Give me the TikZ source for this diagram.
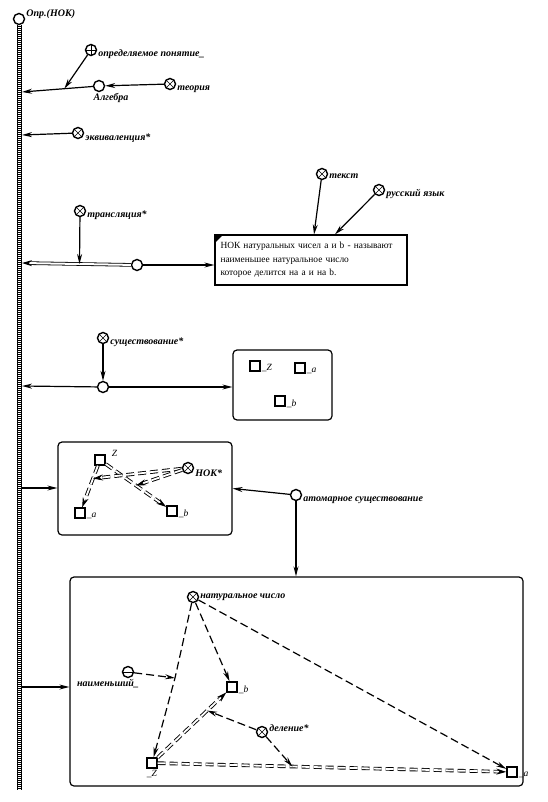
\documentclass[tikz,border=0pt]{standalone}
\usepackage{fontspec}
\setmainfont{Liberation Serif}
\usetikzlibrary{positioning,calc,arrows.meta}
\tikzset{lbl/.style={font=\fontsize{10}{12}\selectfont\bfseries\itshape, inner sep=1pt}}
\tikzset{sub/.style={font=\fontsize{9.5}{10}\selectfont\itshape, inner sep=1pt}}
\tikzset{arr/.style={draw, -{Stealth[length=10pt,width=5pt]}, line width=1.2pt}}
\tikzset{dash arr/.style={arr, dash pattern=on 8pt off 4pt}}
\tikzset{dbl line/.style={draw, line width=0.9pt, double, double distance=1.8pt, dash pattern=on 8pt off 4pt, shorten >=7pt}}
\tikzset{tip only/.style={draw, -{Stealth[length=10pt,width=6pt]}, line width=1pt, dash pattern=on 0pt off 5000pt}}
\newcommand{\dblarrow}[3][]{\draw[dbl line, #1] (#2) -- (#3); \draw[tip only] (#2) -- (#3);}
\tikzset{pt/.style={circle, draw, line width=1.4pt, fill=white, minimum size=11pt, inner sep=0pt}}
\tikzset{cross pt/.style={pt, path picture={\draw[line width=0.6pt] (path picture bounding box.north west) -- (path picture bounding box.south east) (path picture bounding box.north east) -- (path picture bounding box.south west);}}}
\tikzset{plus pt/.style={pt, path picture={\draw[line width=0.8pt] (path picture bounding box.north) -- (path picture bounding box.south) (path picture bounding box.west) -- (path picture bounding box.east);}}}
\tikzset{minus pt/.style={pt, path picture={\draw[line width=0.8pt] (path picture bounding box.west) -- (path picture bounding box.east);}}}
\tikzset{sq/.style={rectangle, draw, line width=1.4pt, fill=white, minimum size=10pt, inner sep=0pt}}
\tikzset{frame/.style={draw, line width=1.2pt, rounded corners=4pt}}

\begin{document}
\begin{tikzpicture}[x=1pt, y=-1pt]
    \useasboundingbox (0,0) rectangle (548,802);
    % the spine
    \draw[line width=5pt] (19,25) -- (19,790);
    \draw[line width=3pt, white, dash pattern=on 1pt off 1pt] (19,25) -- (19,790);
    \node[pt, label={[lbl, yshift=5pt]right:Опр.(НОК)}] (opr) at (19,19) {};

    % top part
    \node[plus pt, label={[lbl, yshift=-4pt]right:определяемое понятие\_}] (defn) at (91,50) {};
    \node[pt, label={[lbl, xshift=12pt]below:Алгебра}] (alg) at (99,86) {};
    \node[cross pt, label={[lbl, yshift=-5pt]right:теория}] (teor) at (170,84) {};
    \node[cross pt, label={[lbl, yshift=-5pt]right:эквиваленция*}] (ekv) at (78,133) {};
    \coordinate (bA) at (22,92);
    \coordinate (bB) at (22,135);
    \draw[arr] (alg) -- (bA);
    \coordinate (onA) at ($(alg)!0.45!(bA)$);
    \draw[arr] (defn) -- (onA);
    \draw[arr] (teor) -- (alg);
    \draw[arr] (ekv) -- (bB);

    % translation
    \node[cross pt, label={[lbl, yshift=-4pt]right:трансляция*}] (trans) at (80,211) {};
    \node[cross pt, label={[lbl, yshift=-2pt]right:текст}] (tekst) at (322,174) {};
    \node[cross pt, label={[lbl, yshift=-4pt]right:русский язык}] (rus) at (379,190) {};
    \node[draw, line width=1.2pt, minimum width=192pt, minimum height=50pt, text width=181pt,
          align=left, inner sep=5pt, font=\fontsize{9.4}{13.5}\selectfont] (defbox) at (311,260)
          {НОК натуральных чисел a и b - называют\\наименьшее натуральное число\\которое делится на a и на b.};
    \fill (defbox.north west) -- ++(9,0) -- ++(-9,9) -- cycle;
    \node[pt] (trc) at (137,265) {};
    \coordinate (bC) at (22,263);
    \dblarrow[solid, double distance=2pt, line width=0.8pt]{trc}{bC}
    \coordinate (onC) at ($(trc)!0.5!(bC)$);
    \draw[arr] (trans) -- (onC);
    \draw[arr] (trc) -- (defbox.west |- trc);
    \draw[arr] (tekst) -- ($(defbox.north)+(3,0)$);
    \draw[arr] (rus) -- ($(defbox.north)+(24,0)$);

    % existence
    \node[cross pt, label={[lbl, yshift=-4pt]right:существование*}] (sush) at (103,338) {};
    \node[pt] (sushc) at (103,387) {};
    \node[frame, minimum width=99pt, minimum height=70pt] (box2) at (282.5,385) {};
    \node[sq, label={[sub, yshift=-2pt]right:\_Z}] (sqZ1) at (255,366) {};
    \node[sq, label={[sub, yshift=-3pt]right:\_a}] (sqa1) at (300,368) {};
    \node[sq, label={[sub, yshift=-3pt]right:\_b}] (sqb1) at (280,401) {};
    \coordinate (bD) at (22,386);
    \draw[arr] (sush) -- (sushc);
    \draw[arr] (sushc) -- (bD);
    \draw[arr] (sushc) -- (box2.west |- sushc);

    % LCM block
    \node[frame, minimum width=174pt, minimum height=93pt] (box3) at (145,488.5) {};
    \node[sq, label={[sub, xshift=5pt, yshift=-3pt]north east:Z}] (sqZ2) at (100,460) {};
    \node[cross pt, label={[lbl, yshift=-5pt]right:НОК*}] (nok) at (188,468) {};
    \node[sq, label={[sub, yshift=-3pt]right:\_a}] (sqa2) at (80,513) {};
    \node[sq, label={[sub, yshift=-3pt]right:\_b}] (sqb2) at (172,511) {};
    \coordinate (onZa) at ($(sqZ2)!0.35!(sqa2)$);
    \coordinate (onZb) at ($(sqZ2)!0.5!(sqb2)$);
    \dblarrow{sqZ2}{sqa2}
    \dblarrow{sqZ2}{sqb2}
    \dblarrow{nok}{onZa}
    \dblarrow{nok}{onZb}
    \coordinate (bE) at (22,488);
    \draw[arr] (bE) -- (box3.west |- bE);
    \node[pt, label={[lbl, yshift=-5pt]right:атомарное существование}] (atom) at (296,495) {};
    \draw[arr] (atom) -- (box3.east);

    % bottom block
    \node[frame, minimum width=453pt, minimum height=209pt] (box4) at (296.5,681.5) {};
    \draw[arr] (atom) -- (box4.north -| atom);
    \coordinate (bF) at (22,687);
    \draw[arr] (bF) -- (box4.west |- bF);
    \node[cross pt, label={[lbl]right:натуральное число}] (nat) at (193,597) {};
    \node[minus pt, label={[lbl, xshift=-20pt]below:наименьший\_}] (naim) at (128,672) {};
    \node[sq, label={[sub, yshift=-3pt]right:\_b}] (sqb3) at (232,687) {};
    \node[cross pt, label={[lbl, yshift=4pt]right:деление*}] (del) at (262,732) {};
    \node[sq, label={[sub]below:\_Z}] (sqZ3) at (152,763) {};
    \node[sq, label={[sub, yshift=-3pt]right:\_a}] (sqa3) at (512,772) {};
    \coordinate (kink) at (175,678);
    \draw[dash arr] (nat) -- (sqb3);
    \draw[dash arr] (nat) -- (sqa3);
    \draw[dash arr] (nat) -- (kink) -- (sqZ3);
    \draw[dash arr] (naim) -- (kink);
    \dblarrow{sqZ3}{sqb3}
    \dblarrow{sqZ3}{sqa3}
    \draw[dash arr] (del) -- ($(sqZ3)!0.69!(sqb3)$);
    \draw[dash arr] (del) -- ($(sqZ3)!0.39!(sqa3)$);
\end{tikzpicture}
\end{document}
